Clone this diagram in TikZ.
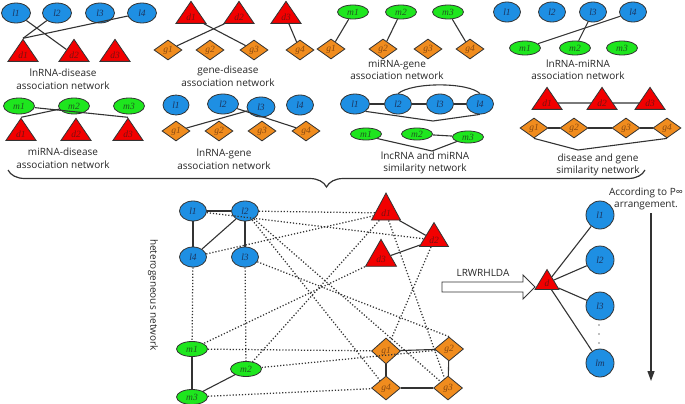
\documentclass[tikz,border=0pt]{standalone}
\usepackage{fontspec}
\setmainfont{Open Sans}
\newfontfamily\lblfont{Liberation Serif}
\usetikzlibrary{shapes.geometric,decorations.pathreplacing,arrows.meta}
\definecolor{lblue}{HTML}{1E8FE3}
\definecolor{lgreen}{HTML}{1EE61E}
\definecolor{dred}{HTML}{F20000}
\definecolor{orng}{HTML}{F08C1E}
\definecolor{outl}{HTML}{333333}
\definecolor{edgec}{HTML}{333333}
\definecolor{ltxt}{HTML}{1B3560}
\definecolor{mtxt}{HTML}{1F5A1F}
\definecolor{dtxt}{HTML}{7A1010}
\definecolor{gtxt}{HTML}{8A4A10}
\begin{document}
\begin{tikzpicture}[x=1pt,y=-1pt,
  base/.style={draw=outl, line width=0.8pt, inner sep=0pt, font=\lblfont\itshape\fontsize{9.5}{9.5}\selectfont},
  lnc/.style={base, ellipse, fill=lblue, text=ltxt, minimum width=29pt, minimum height=20pt},
  mir/.style={base, ellipse, fill=lgreen, text=mtxt, minimum width=31pt, minimum height=14pt},
  dis/.style={base, isosceles triangle, isosceles triangle stretches, shape border rotate=90, fill=dred, text=dtxt, minimum width=30pt, minimum height=22pt},
  gen/.style={base, diamond, fill=orng, text=gtxt, minimum width=28pt, minimum height=20pt},
  edge/.style={draw=edgec, line width=1.1pt},
  dots/.style={draw=edgec, line width=1.25pt, dash pattern=on 1.2pt off 1.9pt},
  netlabel/.style={align=center, text=black!85, font=\fontsize{10}{12.5}\selectfont, inner sep=0pt}
]
\useasboundingbox (0,0) rectangle (685,404);

% ---------- Net 1: lncRNA-disease
\node[lnc] (a-l1) at (16,13) {l1};
\node[lnc] (a-l2) at (57,13) {l2};
\node[lnc] (a-l3) at (100,13) {l3};
\node[lnc] (a-l4) at (142,13) {l4};
\node[dis] (a-d1) at (23,55) {d1};
\node[dis] (a-d2) at (74,55) {d2};
\node[dis] (a-d3) at (115,55) {d3};
\draw[edge] (a-l1) -- (a-d2);
\draw[edge] (a-l2) -- (a-d1.apex);
\draw[edge] (a-l4) -- (a-d1.apex);
\node[netlabel] (a-lab) at (63,79) {lnRNA-disease\\association network};

% ---------- Net 2: gene-disease
\node[dis] (b-d1) at (191,17) {d1};
\node[dis] (b-d2) at (239,17) {d2};
\node[dis] (b-d3) at (286,17) {d3};
\node[gen] (b-g1) at (168,50) {g1};
\node[gen] (b-g2) at (210,50) {g2};
\node[gen] (b-g3) at (254,50) {g3};
\node[gen] (b-g4) at (300,50) {g4};
\draw[edge] (b-d1) -- (b-g3);
\draw[edge] (b-d2) -- (b-g1);
\draw[edge] (b-d3) -- (b-g4);
\node[netlabel] (b-lab) at (228,76) {gene-disease\\association network};

% ---------- Net 3: miRNA-gene
\node[mir] (c-m1) at (353,12) {m1};
\node[mir] (c-m2) at (401,12) {m2};
\node[mir] (c-m3) at (448,12) {m3};
\node[gen] (c-g1) at (331,49) {g1};
\node[gen] (c-g2) at (383,49) {g2};
\node[gen] (c-g3) at (428,49) {g3};
\node[gen] (c-g4) at (470,49) {g4};
\draw[edge] (c-m1) -- (c-g1);
\draw[edge] (c-m2) -- (c-g2);
\draw[edge] (c-m3) -- (c-g4);
\node[netlabel] (c-lab) at (397,70) {miRNA-gene\\association network};

% ---------- Net 4: lncRNA-miRNA
\node[lnc, minimum width=27pt] (e-l1) at (507,12) {l1};
\node[lnc, minimum width=27pt] (e-l2) at (552,12) {l2};
\node[lnc, minimum width=27pt] (e-l3) at (593,12) {l3};
\node[lnc, minimum width=27pt] (e-l4) at (633,12) {l4};
\node[mir] (e-m1) at (525,48) {m1};
\node[mir] (e-m2) at (575,48) {m2};
\node[mir] (e-m3) at (622,48) {m3};
\draw[edge] (e-l4) -- (e-m1);
\draw[edge] (e-l3) -- (e-m2);
\node[netlabel] (e-lab) at (578,70) {lnRNA-miRNA\\association network};

% ---------- Net 5: miRNA-disease
\node[mir, minimum height=16pt] (f-m1) at (19,106) {m1};
\node[mir, minimum height=16pt] (f-m2) at (74,106) {m2};
\node[mir, minimum height=16pt] (f-m3) at (129,106) {m3};
\node[dis] (f-d1) at (21,134) {d1};
\node[dis] (f-d2) at (76,134) {d2};
\node[dis] (f-d3) at (128,134) {d3};
\draw[edge] (f-m1) -- (f-d3.apex);
\draw[edge] (f-m2) -- (f-d1.apex);
\node[netlabel] (f-lab) at (63,158) {miRNA-disease\\association network};

% ---------- Net 6: lncRNA-gene
\node[lnc, minimum width=26pt] (g-l1) at (176,105) {l1};
\node[lnc, minimum width=31pt] (g-l2) at (223,104) {l2};
\node[lnc, minimum width=28pt] (g-l3) at (261,107) {l3};
\node[lnc, minimum width=27pt] (g-l4) at (300,105) {l4};
\node[gen] (g-g1) at (176,131) {g1};
\node[gen] (g-g2) at (219,131) {g2};
\node[gen] (g-g3) at (262,131) {g3};
\node[gen] (g-g4) at (306,131) {g4};
\draw[edge] (g-l3) -- (g-g1);
\draw[edge] (g-l2) -- (g-g4);
\node[netlabel] (g-lab) at (224,159) {lnRNA-gene\\association network};

% ---------- Net 7: lncRNA and miRNA similarity
\node[lnc] (h-l1) at (355,104) {l1};
\node[lnc, minimum width=27pt] (h-l2) at (398,104) {l2};
\node[lnc, minimum width=27pt] (h-l3) at (440,104) {l3};
\node[lnc, minimum width=27pt] (h-l4) at (480,104) {l4};
\node[mir, minimum height=12pt] (h-m1) at (366,134) {m1};
\node[mir, minimum height=12pt] (h-m2) at (417,134) {m2};
\node[mir, minimum height=12pt] (h-m3) at (468,137) {m3};
\coordinate (h-b1) at (433,121);
\coordinate (h-b2) at (432,151);
\draw[edge] (h-l1) -- (h-l2);
\draw[edge] (h-l2) -- (h-l3);
\draw[edge] (h-l3) -- (h-l4);
\draw[edge] (h-l2.north) .. controls (412,82) and (468,82) .. (h-l4.north);
\draw[edge] (h-l1.south east) -- (h-b1) -- (h-l4.south);
\draw[edge] (h-m2) -- (h-m3);
\draw[edge] (h-m1.south east) -- (h-b2) -- (h-m3.south west);
\node[netlabel] (h-lab) at (425,163) {lncRNA and miRNA\\similarity network};

% ---------- Net 8: disease and gene similarity
\node[dis] (k-d1) at (547,103) {d1};
\node[dis] (k-d2) at (602,103) {d2};
\node[dis] (k-d3) at (650,103) {d3};
\node[gen] (k-g1) at (534,128) {g1};
\node[gen] (k-g2) at (574,128) {g2};
\node[gen] (k-g3) at (626,128) {g3};
\node[gen] (k-g4) at (667,128) {g4};
\coordinate (k-b1) at (578,150);
\draw[edge] (k-d1) -- (k-d2);
\draw[edge] (k-d2) -- (k-d3);
\draw[edge] (k-g1) -- (k-g2);
\draw[edge] (k-g2) -- (k-g3);
\draw[edge] (k-g3) -- (k-g4);
\draw[edge] (k-g1.south) -- (k-b1) -- (k-g4.south);
\node[netlabel] (k-lab) at (598,165) {disease and gene\\similarity network};

% ---------- brace
\coordinate (br-a) at (8,170);
\coordinate (br-b) at (645,170);
\draw[decorate, decoration={brace, mirror, amplitude=17pt}, line width=1.2pt, draw=edgec] (br-a) -- (br-b);

% ---------- heterogeneous network
\node[rotate=-90, font=\fontsize{10}{12}\selectfont, text=black!85] (het) at (153,295) {heterogeneous network};

\node[lnc, minimum width=27pt] (M-l1) at (193,211) {l1};
\node[lnc, minimum width=27pt] (M-l2) at (245,211) {l2};
\node[lnc, minimum width=27pt] (M-l4) at (193,257) {l4};
\node[lnc, minimum width=27pt] (M-l3) at (245,257) {l3};
\node[mir, minimum height=15pt] (M-m1) at (192,349) {m1};
\node[mir, minimum height=15pt] (M-m2) at (246,369) {m2};
\node[mir, minimum height=15pt] (M-m3) at (192,397) {m3};
\node[dis, minimum width=29pt, minimum height=27pt] (M-d1) at (386,213) {d1};
\node[dis, minimum width=29pt, minimum height=24pt] (M-d2) at (434,240) {d2};
\node[dis, minimum width=31pt, minimum height=27pt] (M-d3) at (381,259) {d3};
\node[gen, minimum width=29pt, minimum height=26pt] (M-g1) at (386,351) {g1};
\node[gen, minimum width=29pt, minimum height=24pt] (M-g2) at (449,349) {g2};
\node[gen, minimum width=29pt, minimum height=24pt] (M-g4) at (386,388) {g4};
\node[gen, minimum width=29pt, minimum height=24pt] (M-g3) at (448,388) {g3};
% solid
\draw[edge] (M-l1) -- (M-l2);
\draw[edge] (M-l1) -- (M-l4);
\draw[edge] (M-l4) -- (M-l2);
\draw[edge] (M-l2) -- (M-l3);
\draw[edge] (M-m1) -- (M-m3);
\draw[edge] (M-m3) -- (M-m2);
\draw[edge] (M-d1) -- (M-d2);
\draw[edge] (M-d2) -- (M-d3);
\draw[edge] (M-g1) -- (M-g2);
\draw[edge] (M-g1) -- (M-g4);
\draw[edge] (M-g4) -- (M-g3);
\draw[edge] (M-g2) -- (M-g3);
% dotted
\draw[dots] (M-l2) -- (M-d1);
\draw[dots] (M-l1) -- (M-d2);
\draw[dots] (M-l4) -- (M-d1);
\draw[dots] (M-l2) -- (M-g3);
\draw[dots] (M-l2) -- (M-g4);
\draw[dots] (M-l3) -- (M-g2.north);
\draw[dots] (M-d1) -- (M-m2);
\draw[dots] (M-d3) -- (M-m1);
\draw[dots] (M-d2) -- (M-g1);
\draw[dots] (M-d1) -- (M-g3);
\draw[dots] (M-m1) -- (M-g1);
\draw[dots] (M-m2) -- (M-g2);
\draw[dots] (M-m3) -- (M-g4);
\draw[dots] (M-l4) -- (M-m1);
\draw[dots] (M-l3) -- (M-m2);

% ---------- LRWRHLDA arrow
\draw[line width=0.9pt, draw=edgec, fill=white] (442,282) -- (523,282) -- (523,275) -- (535,287) -- (523,299) -- (523,292) -- (442,292) -- cycle;
\node[font=\fontsize{10}{12}\selectfont, text=black!85] (lrw) at (483,273) {LRWRHLDA};

% ---------- ranking
\node[dis, minimum width=24pt, minimum height=20pt] (R-d) at (547,283) {d};
\node[lnc, circle, minimum size=28pt] (R-l1) at (600,215) {l1};
\node[lnc, circle, minimum size=28pt] (R-l2) at (600,260) {l2};
\node[lnc, circle, minimum size=28pt] (R-l3) at (600,306) {l3};
\node[lnc, circle, minimum size=28pt] (R-lm) at (600,363) {lm};
\draw[edge] (R-d) -- (R-l1);
\draw[edge] (R-d) -- (R-l2);
\draw[edge] (R-d) -- (R-l3);
\draw[edge] (R-d) -- (R-lm);
\fill[gray] (599,325) circle (0.8);
\fill[gray] (599,334) circle (0.8);
\fill[gray] (599,343) circle (0.8);
\node[font=\fontsize{10}{12}\selectfont, text=black!85, align=center] (acc) at (646,199) {According to P∞\\arrangement.};
\coordinate (R-top) at (651,213);
\coordinate (R-bot) at (651,381);
\draw[line width=1.3pt, draw=edgec, -{Triangle[length=10pt,width=7pt]}] (R-top) -- (R-bot);
\end{tikzpicture}
\end{document}
